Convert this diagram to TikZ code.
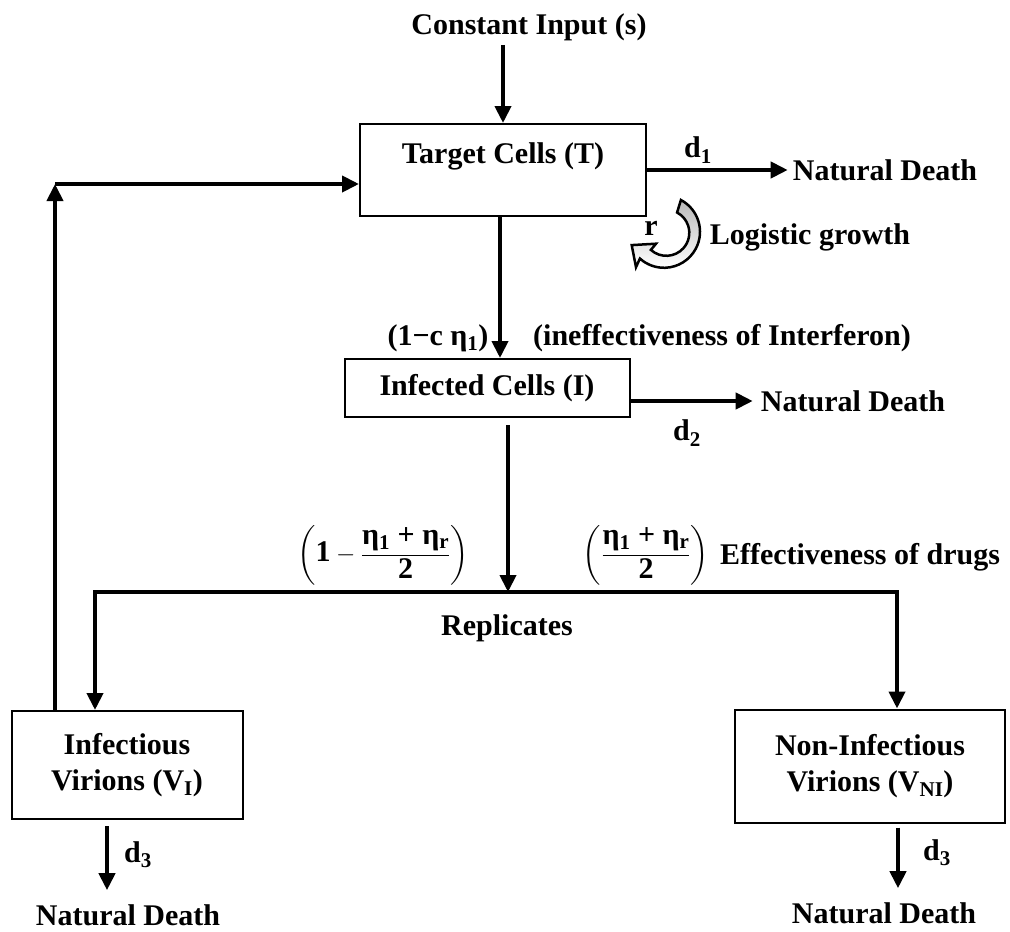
\documentclass[tikz,border=0pt]{standalone}
\usepackage{amsmath}
\usepackage{fontspec}
\setmainfont{Liberation Serif}
\usetikzlibrary{arrows.meta}

\begin{document}
\begin{tikzpicture}[x=1pt, y=-1pt,
    txt/.style = {font=\fontsize{30}{36}\selectfont\bfseries, inner sep=0pt},
    box/.style = {draw, line width=2pt, txt},
    arr/.style = {line width=4pt, -{Triangle[length=17pt, width=16pt]}},
    arrboth/.style = {line width=4pt, {Triangle[length=17pt, width=16pt]}-{Triangle[length=17pt, width=16pt]}}]
    \useasboundingbox (0,0) rectangle (1010,932);

    % boxes
    \node[box, minimum width=286pt, text height=39pt, text depth=53pt] (T) at (503,170) {Target Cells (T)};
    \node[box, minimum width=285pt, minimum height=58pt] (I) at (487,388) {Infected Cells (I)};
    \node[box, minimum width=231pt, minimum height=108pt, align=center] (VI) at (127,765) {Infectious\\Virions (V\textsubscript{I})};
    \node[box, minimum width=270pt, minimum height=113pt, align=center] (VNI) at (870,766) {Non-Infectious\\Virions (V\textsubscript{NI})};

    % labels
    \node[txt] (s) at (529,27) {Constant Input (s)};
    \node[txt] (nd1) at (885,170) {Natural Death};
    \node[txt] (d1) at (698,150) {d\textsubscript{1}};
    \node[txt] (r) at (651,228) {r};
    \node[txt] (lg) at (810,237) {Logistic growth};
    \node[txt] (c1) at (438,338) {(1−c η\textsubscript{1})};
    \node[txt] (ineff) at (722,338) {(ineffectiveness of Interferon)};
    \node[txt] (nd2) at (853,401) {Natural Death};
    \node[txt] (d2) at (687,433) {d\textsubscript{2}};
    \node[txt] (fl) at (383,555) {$\left(\text{1}-\dfrac{\text{η\textsubscript{1} + η\textsubscript{r}}}{\text{2}}\right)$};
    \node[txt] (fr) at (646,555) {$\left(\dfrac{\text{η\textsubscript{1} + η\textsubscript{r}}}{\text{2}}\right)$};
    \node[txt] (eff) at (860,557) {Effectiveness of drugs};
    \node[txt] (rep) at (507,628) {Replicates};
    \node[txt] (d3a) at (138,855) {d\textsubscript{3}};
    \node[txt] (nd3) at (128,915) {Natural Death};
    \node[txt] (d3b) at (937,853) {d\textsubscript{3}};
    \node[txt] (nd4) at (884,913) {Natural Death};

    \coordinate (split) at (508,592);
    \coordinate (jl) at (95,592);
    \coordinate (jr) at (897,592);
    \coordinate (fb) at (55,184);

    % connectors
    \draw[arr] ([yshift=-4pt]T.north |- s.south) -- (T.north);
    \draw[arr, shorten >=5pt] (T.east) -- (nd1.west);
    \draw[arr] ([xshift=-3pt]T.south) -- ([xshift=-3pt]T.south |- I.north);
    \draw[arr, shorten >=8pt] (I.east |- nd2) -- (nd2.west);
    \draw[arr] ([yshift=-7pt]I.south -| split) -- (split);
    \draw[arrboth] (VI.north -| jl) -- (jl) -- (jr) -- (VNI.north -| jr);
    \draw[arr] (VI.north -| fb) -- (fb);
    \draw[arr] (fb) -- (fb -| T.west);
    \draw[arr, shorten >=14pt] ([xshift=-20pt, yshift=-6pt]VI.south) -- ([xshift=-20pt]VI.south |- nd3.north);
    \draw[arr, shorten >=14pt] ([xshift=28pt, yshift=-4pt]VNI.south) -- ([xshift=28pt]VNI.south |- nd4.north);

    % logistic growth curl
    \draw[line width=2.5pt, top color=gray!55, bottom color=white]
        (680.9,200.0) arc[start angle=-62, end angle=132, radius=36]
        -- (636.0,267.2) -- (631.7,245.1) -- (656.0,243.7) -- (650.9,249.9)
        arc[start angle=132, end angle=-62, radius=23] -- cycle;
\end{tikzpicture}
\end{document}
